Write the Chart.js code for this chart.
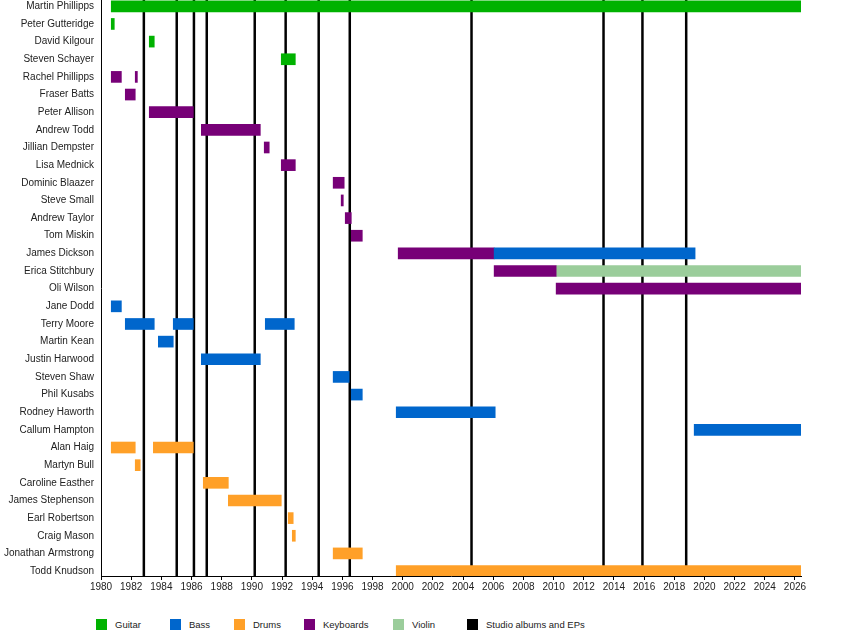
<!DOCTYPE html>
<html lang="en">
  <head>
    <meta charset="UTF-8" />
    <title>The Chills members timeline</title>
    <script src="https://cdn.jsdelivr.net/npm/chart.js@4.4.1/dist/chart.umd.min.js"></script>
    <style>
      body { margin: 0; background: #fff; font-family: "Liberation Sans", Arial, sans-serif; }
      #wrap { position: relative; width: 850px; height: 636px; }
      #chart { position: absolute; left: 0; top: 0; }
      .key { position: absolute; top: 619px; height: 11px; }
      .key span.box { position: absolute; left: 0; top: 0; width: 11px; height: 11px; }
      .key span.txt { position: absolute; left: 19px; top: -1px; font-size: 9.5px; line-height: 13px; color: #222; white-space: nowrap; }
    </style>
  </head>
  <body>
    <div id="wrap">
      <canvas id="chart" width="850" height="600"></canvas>
      <div id="legend"></div>
    </div>

    <script>
      // band members, top to bottom
      var members = [
        "Martin Phillipps", "Peter Gutteridge", "David Kilgour", "Steven Schayer",
        "Rachel Phillipps", "Fraser Batts", "Peter Allison", "Andrew Todd",
        "Jillian Dempster", "Lisa Mednick", "Dominic Blaazer", "Steve Small",
        "Andrew Taylor", "Tom Miskin", "James Dickson", "Erica Stitchbury",
        "Oli Wilson", "Jane Dodd", "Terry Moore", "Martin Kean",
        "Justin Harwood", "Steven Shaw", "Phil Kusabs", "Rodney Haworth",
        "Callum Hampton", "Alan Haig", "Martyn Bull", "Caroline Easther",
        "James Stephenson", "Earl Robertson", "Craig Mason", "Jonathan Armstrong",
        "Todd Knudson"
      ];

      var today = 2026.4;

      // [member, from, to]
      var guitar = [
        ["Martin Phillipps", 1980.68, today],
        ["Peter Gutteridge", 1980.68, 1980.88],
        ["David Kilgour", 1983.2, 1983.53],
        ["Steven Schayer", 1991.95, 1992.88]
      ];
      var bass = [
        ["James Dickson", 2006.06, 2019.38],
        ["Jane Dodd", 1980.68, 1981.35],
        ["Terry Moore", 1981.61, 1983.53],
        ["Terry Moore", 1984.79, 1986.12],
        ["Terry Moore", 1990.89, 1992.81],
        ["Martin Kean", 1983.8, 1984.79],
        ["Justin Harwood", 1986.65, 1990.56],
        ["Steven Shaw", 1995.39, 1996.45],
        ["Phil Kusabs", 1996.59, 1997.32],
        ["Rodney Haworth", 1999.57, 2006.13],
        ["Callum Hampton", 2019.32, today]
      ];
      var drums = [
        ["Alan Haig", 1980.68, 1982.27],
        ["Alan Haig", 1983.47, 1986.12],
        ["Martyn Bull", 1982.27, 1982.6],
        ["Caroline Easther", 1986.78, 1988.44],
        ["James Stephenson", 1988.44, 1991.95],
        ["Earl Robertson", 1992.41, 1992.74],
        ["Craig Mason", 1992.68, 1992.88],
        ["Jonathan Armstrong", 1995.39, 1997.32],
        ["Todd Knudson", 1999.57, today]
      ];
      var keyboards = [
        ["Rachel Phillipps", 1980.68, 1981.35],
        ["Rachel Phillipps", 1982.27, 1982.41],
        ["Fraser Batts", 1981.61, 1982.27],
        ["Peter Allison", 1983.2, 1986.12],
        ["Andrew Todd", 1986.65, 1990.56],
        ["Jillian Dempster", 1990.82, 1991.15],
        ["Lisa Mednick", 1991.95, 1992.88],
        ["Dominic Blaazer", 1995.39, 1996.12],
        ["Steve Small", 1995.92, 1996.06],
        ["Andrew Taylor", 1996.19, 1996.59],
        ["Tom Miskin", 1996.59, 1997.32],
        ["James Dickson", 1999.7, 2006.06],
        ["Erica Stitchbury", 2006.06, 2010.17],
        ["Oli Wilson", 2010.17, today]
      ];
      var violin = [
        ["Erica Stitchbury", 2010.17, today]
      ];

      // studio albums and EPs (release dates)
      var albums = [1982.84, 1985.02, 1986.16, 1987.01, 1990.19, 1992.24, 1994.43,
        1996.49, 2004.56, 2013.31, 2015.89, 2018.79];

      var roles = ["Guitar", "Bass", "Drums", "Keyboards", "Violin"];
      var roleData = [guitar, bass, drums, keyboards, violin];
      var roleColors = ["#00b200", "#0066cc", "#ffa028", "#770077", "#9bcd9b"];
      var legendX = [96, 170, 234, 304, 393, 467];

      function toPoints(list) {
        return list.map(function (r) {
          return { x: [r[1], r[2]], y: members.indexOf(r[0]) };
        });
      }

      var datasets = [];
      for (var i = 0; i < roles.length; i++) {
        datasets.push({
          label: roles[i],
          data: toPoints(roleData[i]),
          backgroundColor: roleColors[i],
          borderWidth: 0,
          barThickness: 11,
          grouped: false
        });
      }

      // album lines go under the bars
      var albumLines = {
        id: "albumLines",
        beforeDatasetsDraw: function (chart) {
          var ctx = chart.ctx;
          var xs = chart.scales.x;
          var area = chart.chartArea;
          ctx.save();
          ctx.strokeStyle = "#000";
          ctx.lineWidth = 2.5;
          albums.forEach(function (a) {
            var px = xs.getPixelForValue(a);
            ctx.beginPath();
            ctx.moveTo(px, area.top);
            ctx.lineTo(px, area.bottom);
            ctx.stroke();
          });
          ctx.restore();
        }
      };

      Chart.defaults.font.family = '"Liberation Sans", Arial, sans-serif';
      Chart.defaults.color = "#222";

      new Chart(document.getElementById("chart"), {
        type: "bar",
        data: { datasets: datasets },
        plugins: [albumLines],
        options: {
          responsive: false,
          animation: false,
          indexAxis: "y",
          layout: { padding: { left: 0, right: 49, top: 0, bottom: 0 } },
          plugins: { legend: { display: false }, tooltip: { enabled: false } },
          scales: {
            x: {
              type: "linear",
              min: 1980,
              max: today,
              grid: { drawOnChartArea: false, drawTicks: true, tickLength: 4, tickColor: "#000" },
              border: { color: "#000", width: 1 },
              ticks: {
                stepSize: 2,
                includeBounds: false,
                maxRotation: 0,
                autoSkip: false,
                padding: 1,
                font: { size: 10 },
                callback: function (v) { return String(v); }
              },
              afterFit: function (s) { s.height = 24; }
            },
            y: {
              type: "linear",
              reverse: true,
              offset: false,
              min: -0.357,
              max: 32.28,
              grid: { display: true, drawOnChartArea: false, drawTicks: false, offset: false },
              border: { color: "#000", width: 1 },
              ticks: {
                padding: 7,
                font: { size: 10 },
                autoSkip: false,
                callback: function (v) { return members[v] || ""; }
              },
              afterBuildTicks: function (s) {
                s.ticks = members.map(function (m, i) { return { value: i }; });
              },
              afterFit: function (s) {
                s.width = 101;
                s.paddingTop = 0;
                s.paddingBottom = 0;
              }
            }
          }
        }
      });

      // legend
      var legend = document.getElementById("legend");
      var keyNames = roles.concat(["Studio albums and EPs"]);
      var keyColors = roleColors.concat(["#000"]);
      for (var k = 0; k < keyNames.length; k++) {
        var d = document.createElement("div");
        d.className = "key";
        d.style.left = legendX[k] + "px";
        d.innerHTML = '<span class="box" style="background:' + keyColors[k] + '"></span>' +
          '<span class="txt">' + keyNames[k] + "</span>";
        legend.appendChild(d);
      }
    </script>
  </body>
</html>
